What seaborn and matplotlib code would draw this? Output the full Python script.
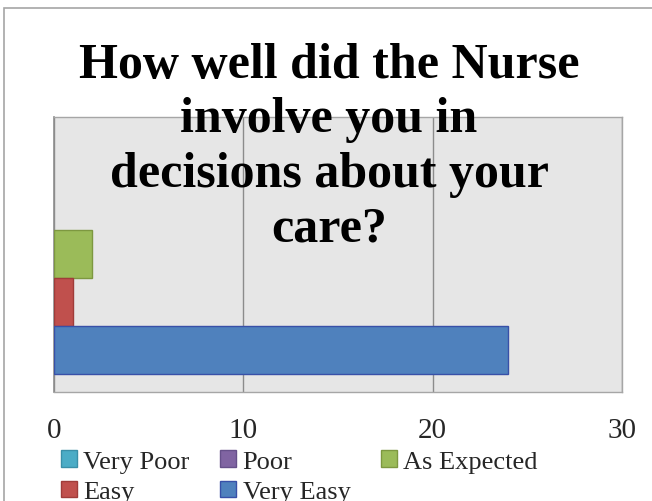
import matplotlib
matplotlib.use("Agg")
import matplotlib.pyplot as plt
import seaborn as sns
import pandas as pd
from matplotlib.patches import Rectangle, Patch

series = ["Very Poor", "Poor", "As Expected", "Easy", "Very Easy"]
values = [0, 0, 2, 1, 24]
colors = ["#4BACC6", "#8064A2", "#9BBB59", "#C0504D", "#4F81BD"]
edges = ["#3A8FA8", "#66508A", "#7D9840", "#A03C3A", "#3850A8"]
title = "How well did the Nurse\ninvolve you in\ndecisions about your\ncare?"
xticks = [0, 10, 20, 30]

df = pd.DataFrame({"series": series, "value": values})

sns.set_theme(style="white")
plt.rcParams["font.family"] = ["Liberation Serif", "DejaVu Serif"]

W, H = 652, 502
fig = plt.figure(figsize=(W / 100, H / 100), dpi=100)
fig.patch.set_facecolor("white")

# outer chart border
fig.add_artist(Rectangle((4 / W, -0.1), 1.2, (H - 9) / H + 0.1, transform=fig.transFigure,
                         fill=False, edgecolor="#A6A6A6", linewidth=1.2))

ax = fig.add_axes([54 / W, (H - 393) / H, (622 - 54) / W, (393 - 118) / H])
ax.set_facecolor("#E6E6E6")

sns.barplot(data=df, y="series", x="value", hue="series", order=series, hue_order=series,
            palette=colors, width=1.0, dodge=False, legend=False, ax=ax, orient="h",
            saturation=1)
for patch, ec, v in zip(ax.patches, edges, values):
    patch.set_edgecolor(ec)
    patch.set_linewidth(1.0 if v > 0 else 0)
    patch.set_zorder(3)

ax.set_xlim(0, 30)
ax.set_ylim(4.5 + 18 / 48, -0.5 - 17 / 48)
ax.set_xticks(xticks)
ax.set_xticklabels([str(t) for t in xticks], fontsize=21)
ax.tick_params(axis="x", length=0, pad=18)
ax.set_yticks([])
ax.set_xlabel("")
ax.set_ylabel("")
ax.xaxis.grid(True, color="#8C8C8C", linewidth=1.0)
ax.set_axisbelow(True)
for s in ["top", "right", "bottom"]:
    ax.spines[s].set_color("#A6A6A6")
    ax.spines[s].set_linewidth(1.0)
ax.spines["left"].set_color("#8C8C8C")
ax.spines["left"].set_linewidth(1.2)

fig.text(329 / W, 1 - 43 / H, title, ha="center", va="top", fontsize=36, fontweight="bold",
         linespacing=1.24, color="black")

handles = [Patch(facecolor=c, edgecolor=e, label=s) for s, c, e in zip(series, colors, edges)]
order = [0, 3, 1, 4, 2]
fig.legend([handles[i] for i in order], [series[i] for i in order], ncol=3,
           loc="upper left", bbox_to_anchor=(61 / W, 1 - 451 / H), frameon=False,
           fontsize=19, handlelength=0.6, handleheight=0.6, handletextpad=0.25,
           columnspacing=1.15, labelspacing=0.3, borderpad=0, borderaxespad=0)

fig.savefig("out.png", dpi=100)
